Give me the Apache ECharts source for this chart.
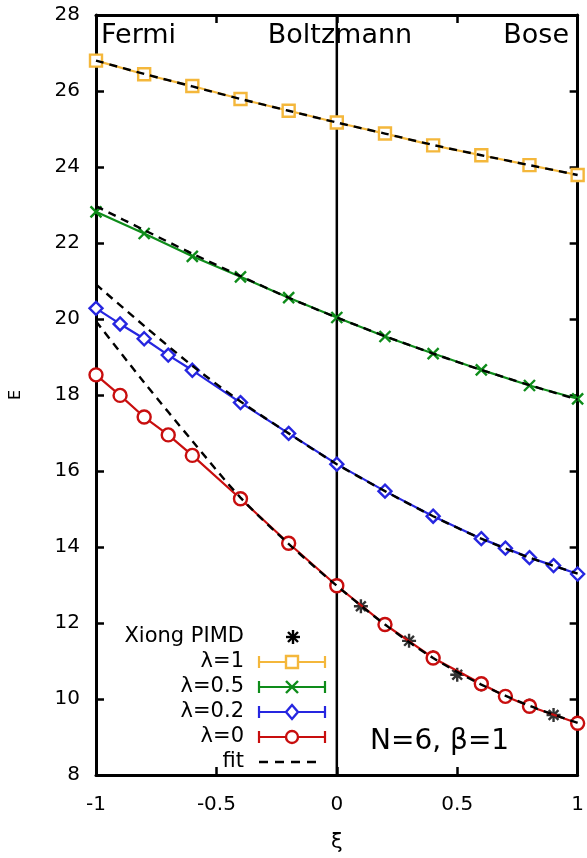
<!DOCTYPE html>
<html><head><meta charset="utf-8">
<script src="https://cdn.jsdelivr.net/npm/echarts@6/dist/echarts.min.js"></script>
<style>html,body{margin:0;padding:0;background:#fff}#c{width:587px;height:858px}</style>
</head><body><div id="c"></div>
<script>
// ---- data ----
const xFull = [-1, -0.8, -0.6, -0.4, -0.2, 0, 0.2, 0.4, 0.6, 0.8, 1];
const lam1 = [26.80, 26.44, 26.13, 25.79, 25.48, 25.17, 24.88, 24.57, 24.31, 24.05, 23.79];
const lam05 = [22.82, 22.25, 21.65, 21.11, 20.56, 20.04, 19.54, 19.09, 18.66, 18.25, 17.90];
const xLam02 = [-1, -0.9, -0.8, -0.7, -0.6, -0.4, -0.2, 0, 0.2, 0.4, 0.6, 0.7, 0.8, 0.9, 1];
const lam02 = [20.28, 19.87, 19.48, 19.05, 18.65, 17.80, 16.99, 16.18, 15.47, 14.81, 14.22, 13.97, 13.72, 13.51, 13.29];
const xLam0 = [-1, -0.9, -0.8, -0.7, -0.6, -0.4, -0.2, 0, 0.2, 0.4, 0.6, 0.7, 0.8, 1];
const lam0 = [18.53, 17.99, 17.42, 16.95, 16.41, 15.27, 14.10, 12.98, 11.96, 11.08, 10.40, 10.07, 9.81, 9.36];
const xXiong = [0, 0.1, 0.2, 0.3, 0.4, 0.5, 0.6, 0.7, 0.8, 0.9, 1];
const xiong = [13.00, 12.44, 11.97, 11.53, 11.10, 10.64, 10.38, 10.08, 9.83, 9.58, 9.38];
const xFit = [-1, -0.8, -0.6, -0.4, -0.2, 0, 0.2, 0.4, 0.6, 0.8, 1];
const fit1 = [26.80, 26.45, 26.12, 25.79, 25.48, 25.17, 24.88, 24.58, 24.31, 24.05, 23.79];
const fit05 = [22.97, 22.34, 21.72, 21.13, 20.56, 20.04, 19.55, 19.09, 18.66, 18.26, 17.88];
const fit02 = [20.91, 19.82, 18.77, 17.83, 16.99, 16.18, 15.47, 14.81, 14.22, 13.72, 13.30];
const fit0 = [19.94, 18.33, 16.79, 15.30, 14.08, 12.98, 11.96, 11.08, 10.38, 9.82, 9.37];
const zeroLineX = [0, 0];
const zeroLineY = [8, 28];
const xTicks = [-1, -0.5, 0, 0.5, 1];
const yTicks = [8, 10, 12, 14, 16, 18, 20, 22, 24, 26, 28];
const legendNames = ['Xiong PIMD', 'λ=1', 'λ=0.5', 'λ=0.2', 'λ=0', 'fit'];

const C_OR = '#f4b73b', C_GR = '#0e8c1a', C_BL = '#2626e0', C_RD = '#c80e0e';
const FONT = 'DejaVu Sans';
const zip = (xs, ys) => xs.map((x, i) => [x, ys[i]]);

const XPATH = 'path://M0,0L10,10M10,0L0,10';
const STARPATH = 'path://M5,0L5,10M0,5L10,5M1.5,1.5L8.5,8.5M8.5,1.5L1.5,8.5';

function dataSeries(name, xs, ys, color, symbol, size, z) {
  return {
    name, type: 'line', data: zip(xs, ys), symbol, symbolSize: size,
    lineStyle: { color, width: 2.2 },
    itemStyle: { color: symbol.startsWith('path') ? 'none' : '#fff', borderColor: color, borderWidth: 2.4 },
    z, animation: false, emphasis: { disabled: true }
  };
}
function fitSeries(ys) {
  return {
    type: 'line', data: zip(xFit, ys), symbol: 'none', smooth: 0.3,
    lineStyle: { color: '#000', width: 2.4, type: [8, 6] }, z: 4, animation: false
  };
}

const series = [
  { type: 'line', data: zip(zeroLineX, zeroLineY), symbol: 'none',
    lineStyle: { color: '#000', width: 2.5 }, z: 1, animation: false },
  { name: 'Xiong PIMD', type: 'scatter', data: zip(xXiong, xiong), symbol: STARPATH, symbolSize: 14,
    itemStyle: { color: 'none', borderColor: '#000', borderWidth: 2.4 }, z: 2, animation: false },
  dataSeries('λ=1', xFull, lam1, C_OR, 'rect', 12, 3),
  dataSeries('λ=0.5', xFull, lam05, C_GR, XPATH, 11, 3),
  dataSeries('λ=0.2', xLam02, lam02, C_BL, 'diamond', 13, 3),
  dataSeries('λ=0', xLam0, lam0, C_RD, 'circle', 13, 3),
  fitSeries(fit1), fitSeries(fit05), fitSeries(fit02), fitSeries(fit0)
];

// legend built from graphic elements (gnuplot style, right aligned text)
const lgX = 244, lgY0 = 637, lgDy = 25, s0 = 259, s1 = 325, sm = 292;
const graphic = [];
const lgColors = [null, C_OR, C_GR, C_BL, C_RD, null];
legendNames.forEach((n, i) => {
  const y = lgY0 + i * lgDy;
  graphic.push({ type: 'text', x: lgX, y, style: { text: n, font: '21px "' + FONT + '"', fill: '#000', align: 'right', verticalAlign: 'middle' }, z: 10 });
  const col = lgColors[i];
  if (col) {
    graphic.push({ type: 'line', shape: { x1: s0, y1: y, x2: s1, y2: y }, style: { stroke: col, lineWidth: 2.2 }, z: 10 });
    graphic.push({ type: 'line', shape: { x1: s0, y1: y - 6, x2: s0, y2: y + 6 }, style: { stroke: col, lineWidth: 2.2 }, z: 10 });
    graphic.push({ type: 'line', shape: { x1: s1, y1: y - 6, x2: s1, y2: y + 6 }, style: { stroke: col, lineWidth: 2.2 }, z: 10 });
  }
});
// legend symbols
graphic.push({ type: 'group', x: sm + 1, y: lgY0, z: 11, children: [
  { type: 'line', shape: { x1: 0, y1: -7, x2: 0, y2: 7 }, style: { stroke: '#000', lineWidth: 2.4 } },
  { type: 'line', shape: { x1: -7, y1: 0, x2: 7, y2: 0 }, style: { stroke: '#000', lineWidth: 2.4 } },
  { type: 'line', shape: { x1: -5, y1: -5, x2: 5, y2: 5 }, style: { stroke: '#000', lineWidth: 2.4 } },
  { type: 'line', shape: { x1: 5, y1: -5, x2: -5, y2: 5 }, style: { stroke: '#000', lineWidth: 2.4 } }
]});
graphic.push({ type: 'rect', shape: { x: sm - 6, y: lgY0 + lgDy - 6, width: 12, height: 12 }, style: { fill: '#fff', stroke: C_OR, lineWidth: 2.4 }, z: 11 });
graphic.push({ type: 'group', x: sm, y: lgY0 + 2 * lgDy, z: 11, children: [
  { type: 'line', shape: { x1: -6, y1: -6, x2: 6, y2: 6 }, style: { stroke: C_GR, lineWidth: 2.4 } },
  { type: 'line', shape: { x1: 6, y1: -6, x2: -6, y2: 6 }, style: { stroke: C_GR, lineWidth: 2.4 } }
]});
graphic.push({ type: 'polygon', shape: { points: [[sm, lgY0 + 3 * lgDy - 7], [sm + 6, lgY0 + 3 * lgDy], [sm, lgY0 + 3 * lgDy + 7], [sm - 6, lgY0 + 3 * lgDy]] }, style: { fill: '#fff', stroke: C_BL, lineWidth: 2.4 }, z: 11 });
graphic.push({ type: 'circle', shape: { cx: sm, cy: lgY0 + 4 * lgDy, r: 6 }, style: { fill: '#fff', stroke: C_RD, lineWidth: 2.4 }, z: 11 });
graphic.push({ type: 'line', shape: { x1: s0, y1: lgY0 + 5 * lgDy, x2: 319, y2: lgY0 + 5 * lgDy }, style: { stroke: '#000', lineWidth: 2.4, lineDash: [9, 7] }, z: 11 });
// annotations
const big = '27px "' + FONT + '"';
graphic.push({ type: 'text', x: 101, y: 36, style: { text: 'Fermi', font: big, fill: '#000', align: 'left', verticalAlign: 'middle' }, z: 12 });
graphic.push({ type: 'text', x: 340, y: 36, style: { text: 'Boltzmann', font: big, fill: '#000', align: 'center', verticalAlign: 'middle' }, z: 12 });
graphic.push({ type: 'text', x: 569, y: 36, style: { text: 'Bose', font: big, fill: '#000', align: 'right', verticalAlign: 'middle' }, z: 12 });
graphic.push({ type: 'text', x: 370, y: 742, style: { text: 'N=6, β=1', font: '28px "' + FONT + '"', fill: '#000', align: 'left', verticalAlign: 'middle' }, z: 12 });

const axisCommon = () => ({
  axisLine: { show: true, onZero: false, lineStyle: { color: '#000', width: 3 } },
  axisTick: { show: true, inside: true, length: 8, lineStyle: { color: '#000', width: 2.5 } },
  splitLine: { show: false }
});
const option = {
  animation: false,
  grid: { left: 95, right: 9, top: 15, bottom: 74, containLabel: false },
  xAxis: [
    Object.assign({ type: 'value', min: xTicks[0], max: xTicks[xTicks.length - 1], interval: 0.5, position: 'bottom',
      name: 'ξ', nameLocation: 'middle', nameGap: 57,
      nameTextStyle: { fontFamily: FONT, fontSize: 21, color: '#000' },
      axisLabel: { fontFamily: FONT, fontSize: 20, color: '#000', margin: 20 } }, axisCommon()),
    Object.assign({ type: 'value', min: xTicks[0], max: xTicks[xTicks.length - 1], interval: 0.5, position: 'top',
      axisLabel: { show: false } }, axisCommon())
  ],
  yAxis: [
    Object.assign({ type: 'value', min: yTicks[0], max: yTicks[yTicks.length - 1], interval: 2, position: 'left',
      name: 'E', nameLocation: 'middle', nameGap: 72, nameRotate: 90,
      nameTextStyle: { fontFamily: FONT, fontSize: 16, color: '#000' },
      axisLabel: { fontFamily: FONT, fontSize: 20, color: '#000', margin: 16 } }, axisCommon()),
    Object.assign({ type: 'value', min: yTicks[0], max: yTicks[yTicks.length - 1], interval: 2, position: 'right',
      axisLabel: { show: false } }, axisCommon())
  ],
  series,
  graphic
};
const chart = echarts.init(document.getElementById('c'), null, { renderer: 'canvas' });
chart.setOption(option);
</script></body></html>
